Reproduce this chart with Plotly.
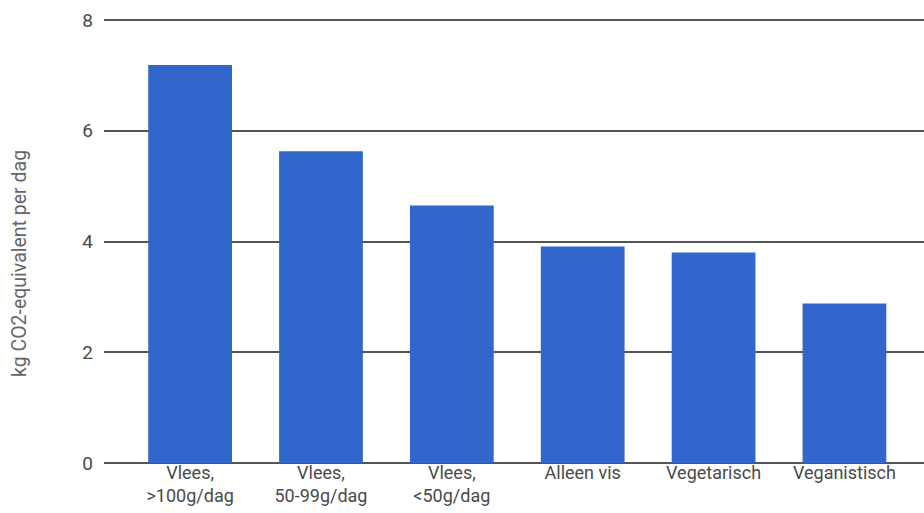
import plotly.graph_objects as go

categories = ["Vlees,<br>>100g/dag", "Vlees,<br>50-99g/dag", "Vlees,<br><50g/dag",
              "Alleen vis", "Vegetarisch", "Veganistisch"]
values = [7.19, 5.63, 4.65, 3.91, 3.80, 2.88]
y_ticks = [0, 2, 4, 6, 8]
y_title = "kg CO2-equivalent per dag"

fig = go.Figure(go.Bar(
    x=list(range(len(categories))), y=values,
    marker=dict(color="#3366CC", line=dict(width=0)),
    width=0.64,
))

fig.update_layout(
    width=924, height=513,
    margin=dict(l=104, r=0, t=19, b=49),
    paper_bgcolor="white", plot_bgcolor="white",
    font=dict(family="Roboto", size=19, color="#444"),
    showlegend=False,
    xaxis=dict(
        range=[-0.658, 5.608],
        tickmode="array", tickvals=list(range(len(categories))), ticktext=categories,
        showgrid=False, zeroline=False, showline=False, ticks="",
        ticklabelstandoff=-4,
        tickfont=dict(size=18, color="#4a4a4a"),
    ),
    yaxis=dict(
        range=[-0.02, 8.02], tickvals=y_ticks,
        showgrid=True, gridcolor="#555", gridwidth=1.5,
        zeroline=False, showline=False, ticks="",
        ticklabelstandoff=10,
        tickfont=dict(size=19, color="#4a4a4a"),
    ),
    annotations=[dict(
        text=y_title, textangle=-90, showarrow=False,
        xref="paper", yref="paper",
        x=(19 - 104) / 820, y=(464 - 264) / 445,
        xanchor="center", yanchor="middle",
        font=dict(size=19.5, color="#666"),
    )],
)

fig.write_html("out.html")
